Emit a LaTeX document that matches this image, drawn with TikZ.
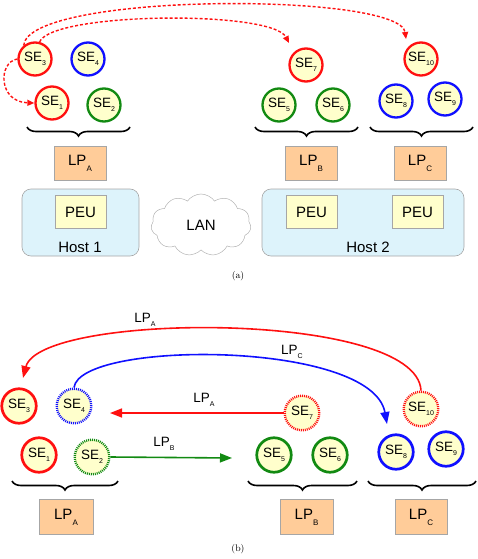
\documentclass[tikz,border=0pt]{standalone}
\usepackage{fontspec}
\setmainfont{Liberation Sans}
\newfontfamily\capfont{Latin Modern Roman}
\usetikzlibrary{arrows.meta,shapes.symbols,decorations.pathreplacing}
\newcommand\mysub[1]{\raisebox{-3.5pt}{\fontsize{7}{7}\selectfont #1}}
\newcommand\lpsub[1]{\raisebox{-6pt}{\fontsize{8}{8}\selectfont #1}}
\definecolor{sefill}{HTML}{FFFFCC}
\definecolor{lpfill}{HTML}{FFCC99}
\definecolor{hostfill}{HTML}{DDF3FB}
\definecolor{segreen}{HTML}{128A12}
\definecolor{sered}{HTML}{FF1010}
\definecolor{seblue}{HTML}{1010FF}
\tikzset{
  se/.style={circle, fill=sefill, line width=2.3pt, minimum size=33pt, inner sep=0pt, font=\fontsize{13.5}{13.5}\selectfont},
  seb/.style={se, line width=2.7pt, minimum size=34.5pt},
  dotborder/.style={dash pattern=on 1pt off 1pt, line width=2.4pt},
  lpbox/.style={rectangle, fill=lpfill, draw=gray!70, line width=0.6pt, minimum width=52pt, minimum height=34pt, inner sep=0pt, font=\fontsize{15}{15}\selectfont},
  peubox/.style={rectangle, fill=sefill, draw=gray!70, line width=0.6pt, minimum width=51pt, minimum height=33pt, inner sep=0pt, font=\fontsize{15}{15}\selectfont},
  hostbox/.style={rounded corners=9pt, fill=hostfill, draw=gray!70, line width=0.6pt},
  brc/.style={decorate, decoration={brace, mirror, amplitude=9pt}, line width=1.6pt},
  dasharr/.style={sered, line width=1.4pt, dash pattern=on 3pt off 2pt, -{Triangle[length=7pt,width=6pt]}},
  arr/.style={line width=1.6pt, -{Triangle[length=12pt,width=9pt]}},
  lbl/.style={font=\fontsize{13.5}{13.5}\selectfont, inner sep=0pt},
  captxt/.style={font=\capfont\fontsize{9.5}{9.5}\selectfont, inner sep=0pt}
}
\begin{document}
\begin{tikzpicture}[x=1pt,y=-1pt]
\useasboundingbox (0,0) rectangle (477,559);
% ---------- (a) ----------
\node[se, draw=sered] (a3) at (35,59) {SE\mysub{3}};
\node[se, draw=seblue] (a4) at (88,59) {SE\mysub{4}};
\node[se, draw=sered] (a1) at (52,103) {SE\mysub{1}};
\node[se, draw=segreen] (a2) at (104,105) {SE\mysub{2}};
\node[se, draw=sered] (a7) at (306,65) {SE\mysub{7}};
\node[se, draw=segreen] (a5) at (279,105) {SE\mysub{5}};
\node[se, draw=segreen] (a6) at (333,105) {SE\mysub{6}};
\node[se, draw=sered] (a10) at (421,59) {SE\mysub{10}};
\node[se, draw=seblue] (a8) at (396,101) {SE\mysub{8}};
\node[se, draw=seblue] (a9) at (445,99) {SE\mysub{9}};
\coordinate (ba1) at (27,127); \coordinate (ba2) at (130,127);
\coordinate (bb1) at (255,127); \coordinate (bb2) at (358,127);
\coordinate (bc1) at (370,127); \coordinate (bc2) at (473,127);
\draw[brc] (ba1) -- (ba2);
\draw[brc] (bb1) -- (bb2);
\draw[brc] (bc1) -- (bc2);
\node[lpbox] (alpa) at (80,163) {LP\lpsub{A}};
\node[lpbox] (alpb) at (311,163) {LP\lpsub{B}};
\node[lpbox] (alpc) at (420,163) {LP\lpsub{C}};
\draw[hostbox] (22,189) rectangle (139,256);
\node[peubox] (peu1) at (80.5,212) {PEU};
\node[lbl, font=\fontsize{15}{15}\selectfont] (h1) at (80,247) {Host 1};
\node[cloud, cloud puffs=11, cloud puff arc=110, aspect=1.6, draw=gray!60, line width=0.5pt, minimum width=100pt, minimum height=62pt, font=\fontsize{15}{15}\selectfont] (lan) at (201,225) {LAN};
\draw[hostbox] (262,189) rectangle (464,256);
\node[peubox] (peu2) at (311.5,212) {PEU};
\node[peubox] (peu3) at (417.5,212) {PEU};
\node[lbl, font=\fontsize{15}{15}\selectfont] (h2) at (368,247) {Host 2};
\node[captxt] (capa) at (238,276) {(a)};
\coordinate (e1) at (406,39);
\coordinate (e2) at (289,43);
\draw[dasharr] (a3.130) .. controls (28,-8) and (400,-8) .. (e1);
\draw[dasharr] (a3.75) .. controls (52,12) and (272,10) .. (e2);
\draw[dasharr] (a3.west) .. controls (-2,62) and (-2,102) .. (a1.west);
% ---------- (b) ----------
\node[seb, draw=sered] (b3) at (19,406) {SE\mysub{3}};
\node[seb, draw=seblue, dotborder] (b4) at (74,406) {SE\mysub{4}};
\node[seb, draw=sered, dotborder] (b7) at (302,413) {SE\mysub{7}};
\node[seb, draw=sered, dotborder] (b10) at (421,409) {SE\mysub{10}};
\node[seb, draw=sered] (b1) at (39,455) {SE\mysub{1}};
\node[seb, draw=segreen, dotborder] (b2) at (92,457) {SE\mysub{2}};
\node[seb, draw=segreen] (b5) at (274,455) {SE\mysub{5}};
\node[seb, draw=segreen] (b6) at (330,455) {SE\mysub{6}};
\node[seb, draw=seblue] (b8) at (396,452) {SE\mysub{8}};
\node[seb, draw=seblue] (b9) at (446,449) {SE\mysub{9}};
\coordinate (ca1) at (12,481); \coordinate (ca2) at (118,481);
\coordinate (cb1) at (248,481); \coordinate (cb2) at (357,481);
\coordinate (cc1) at (368,481); \coordinate (cc2) at (476,481);
\draw[brc] (ca1) -- (ca2);
\draw[brc] (cb1) -- (cb2);
\draw[brc] (cc1) -- (cc2);
\node[lpbox, minimum width=54pt, minimum height=35pt] (blpa) at (66,517) {LP\lpsub{A}};
\node[lpbox, minimum width=53pt, minimum height=35pt] (blpb) at (306.5,517) {LP\lpsub{B}};
\node[lpbox, minimum width=52pt, minimum height=35pt] (blpc) at (421,517) {LP\lpsub{C}};
\node[captxt] (capb) at (238,549) {(b)};
\coordinate (t3) at (23,378);
\coordinate (t8) at (387,424);
\coordinate (t4) at (110,413);
\coordinate (t5) at (232,458);
\draw[arr, sered] (b10.north) .. controls (417,310) and (40,312) .. (t3);
\draw[arr, seblue] (b4.north) .. controls (80,340) and (372,340) .. (t8);
\draw[arr, sered] (b7.west) -- (t4);
\draw[arr, segreen] (b2.east) -- (t5);
\node[lbl] (l1) at (145,320) {LP\mysub{A}};
\node[lbl] (l2) at (292,352) {LP\mysub{C}};
\node[lbl] (l3) at (204,400) {LP\mysub{A}};
\node[lbl] (l4) at (164,444) {LP\mysub{B}};
\end{tikzpicture}
\end{document}
